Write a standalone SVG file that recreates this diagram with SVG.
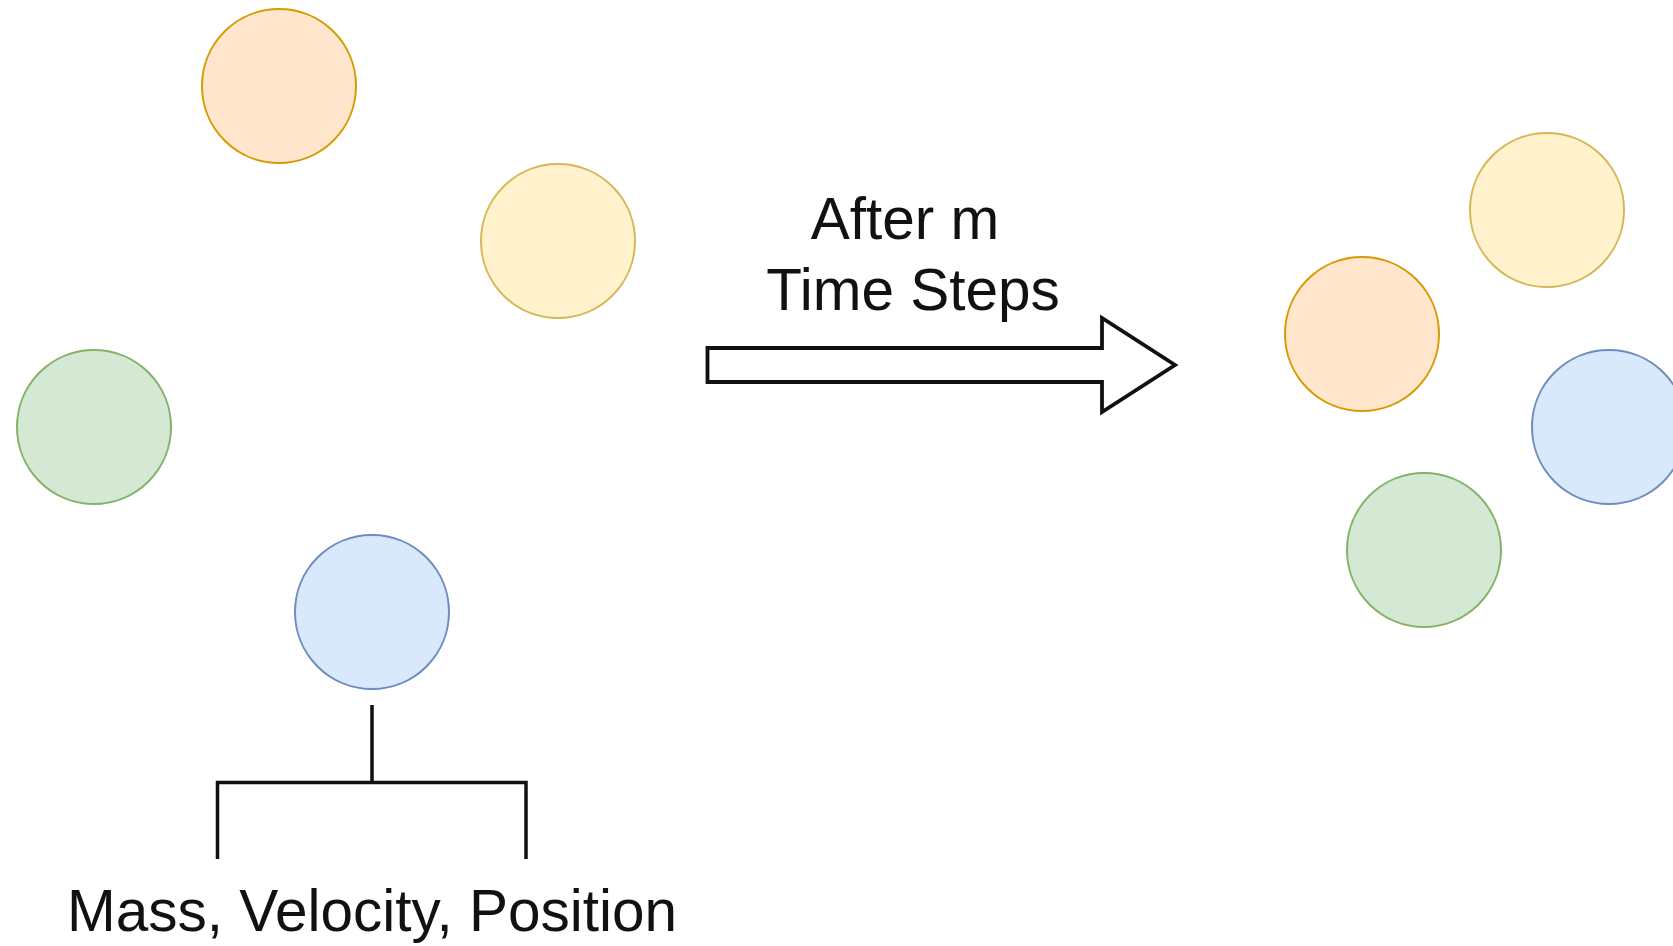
<svg xmlns="http://www.w3.org/2000/svg" width="1673" height="946" viewBox="0 0 1673 946">
  <style>
    .body { stroke-width: 2; }
    .orange { fill: #ffe6cc; stroke: #d79b00; }
    .yellow { fill: #fff2cc; stroke: #d6b656; }
    .green { fill: #d5e8d4; stroke: #82b366; }
    .blue { fill: #dae8fc; stroke: #6c8ebf; }
    .label { font-family: "Liberation Sans", Arial, sans-serif; font-size: 58.5px; fill: #111; text-anchor: middle; }
    .line { fill: none; stroke: #111; stroke-width: 3.5; }
  </style>
  <rect width="1673" height="946" fill="#ffffff"/>

  <!-- initial state -->
  <g id="body-orange-start"><circle class="body orange" cx="279" cy="86" r="77"/></g>
  <g id="body-yellow-start"><circle class="body yellow" cx="558" cy="241" r="77"/></g>
  <g id="body-green-start"><circle class="body green" cx="94" cy="427" r="77"/></g>
  <g id="body-blue-start"><circle class="body blue" cx="372" cy="612" r="77"/></g>

  <!-- state after m steps -->
  <g id="body-yellow-end"><circle class="body yellow" cx="1547" cy="210" r="77"/></g>
  <g id="body-orange-end"><circle class="body orange" cx="1362" cy="334" r="77"/></g>
  <g id="body-blue-end"><circle class="body blue" cx="1609" cy="427" r="77"/></g>
  <g id="body-green-end"><circle class="body green" cx="1424" cy="550" r="77"/></g>

  <!-- transition arrow and its caption -->
  <g id="step-arrow">
    <polygon points="707.5,348 1102,348 1102,318 1175,365 1102,412 1102,382 707.5,382" fill="#ffffff" stroke="#111" stroke-width="3.8" stroke-linejoin="miter"/>
    <text class="label" x="905" y="239">After m</text>
    <text class="label" x="913" y="310">Time Steps</text>
  </g>

  <!-- attribute bracket under the blue body -->
  <g id="connectors">
    <path class="line" d="M372,705 V782.5 M217.5,859 V782.5 H526 V859"/>
  </g>
  <g id="attributes">
    <text class="label" x="372" y="931">Mass, Velocity, Position</text>
  </g>
</svg>
